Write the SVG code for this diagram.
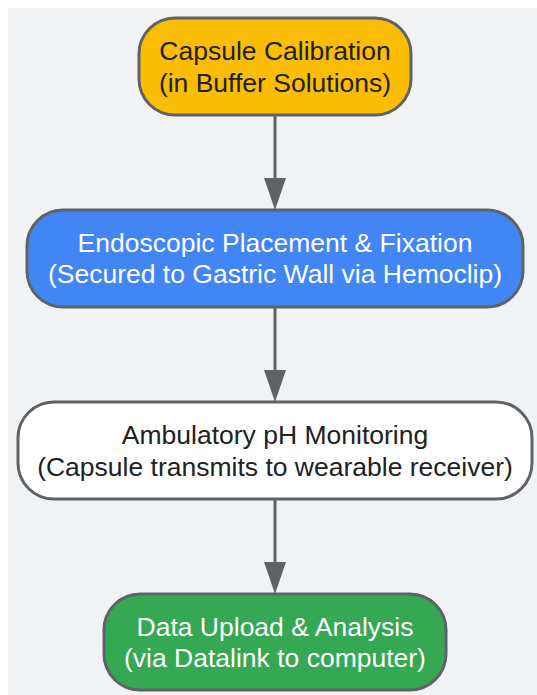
<svg xmlns="http://www.w3.org/2000/svg" width="537" height="695" viewBox="0 0 537 695">
<defs>
<style>
.node{stroke:#5f6368;stroke-width:3}
.t{font-family:"Liberation Sans",Arial,sans-serif;font-size:26.5px;text-anchor:middle}
.dark{fill:#202124}
.light{fill:#ffffff}
.edge{stroke:#5f6368;stroke-width:3;fill:none}
.head{fill:#5f6368}
</style>
</defs>
<rect x="0" y="0" width="537" height="695" fill="#ffffff"/>
<rect x="8" y="8" width="529" height="687" fill="#f1f2f4"/>
<g id="connectors">
<line class="edge" x1="275" y1="115" x2="275" y2="180"/>
<polygon class="head" points="264,178 286,178 275,210"/>
<line class="edge" x1="275" y1="307" x2="275" y2="372"/>
<polygon class="head" points="264,370 286,370 275,402"/>
<line class="edge" x1="275" y1="499" x2="275" y2="564"/>
<polygon class="head" points="264,562 286,562 275,594"/>
</g>
<g id="calibration">
<rect class="node" x="139" y="18" width="272" height="97" rx="36" fill="#fbbc04"/>
<text class="t dark" x="275" y="60">Capsule Calibration</text>
<text class="t dark" x="275" y="91.7">(in Buffer Solutions)</text>
</g>
<g id="placement">
<rect class="node" x="27" y="210" width="496" height="97" rx="36" fill="#4285f4"/>
<text class="t light" x="275" y="251.7">Endoscopic Placement &amp; Fixation</text>
<text class="t light" x="275" y="283.3">(Secured to Gastric Wall via Hemoclip)</text>
</g>
<g id="monitoring">
<rect class="node" x="18" y="402" width="514" height="97" rx="36" fill="#ffffff"/>
<text class="t dark" x="275" y="444">Ambulatory pH Monitoring</text>
<text class="t dark" x="275" y="476">(Capsule transmits to wearable receiver)</text>
</g>
<g id="upload">
<rect class="node" x="104" y="594" width="342" height="96" rx="36" fill="#34a853"/>
<text class="t light" x="275" y="635.5">Data Upload &amp; Analysis</text>
<text class="t light" x="275" y="667">(via Datalink to computer)</text>
</g>
</svg>
